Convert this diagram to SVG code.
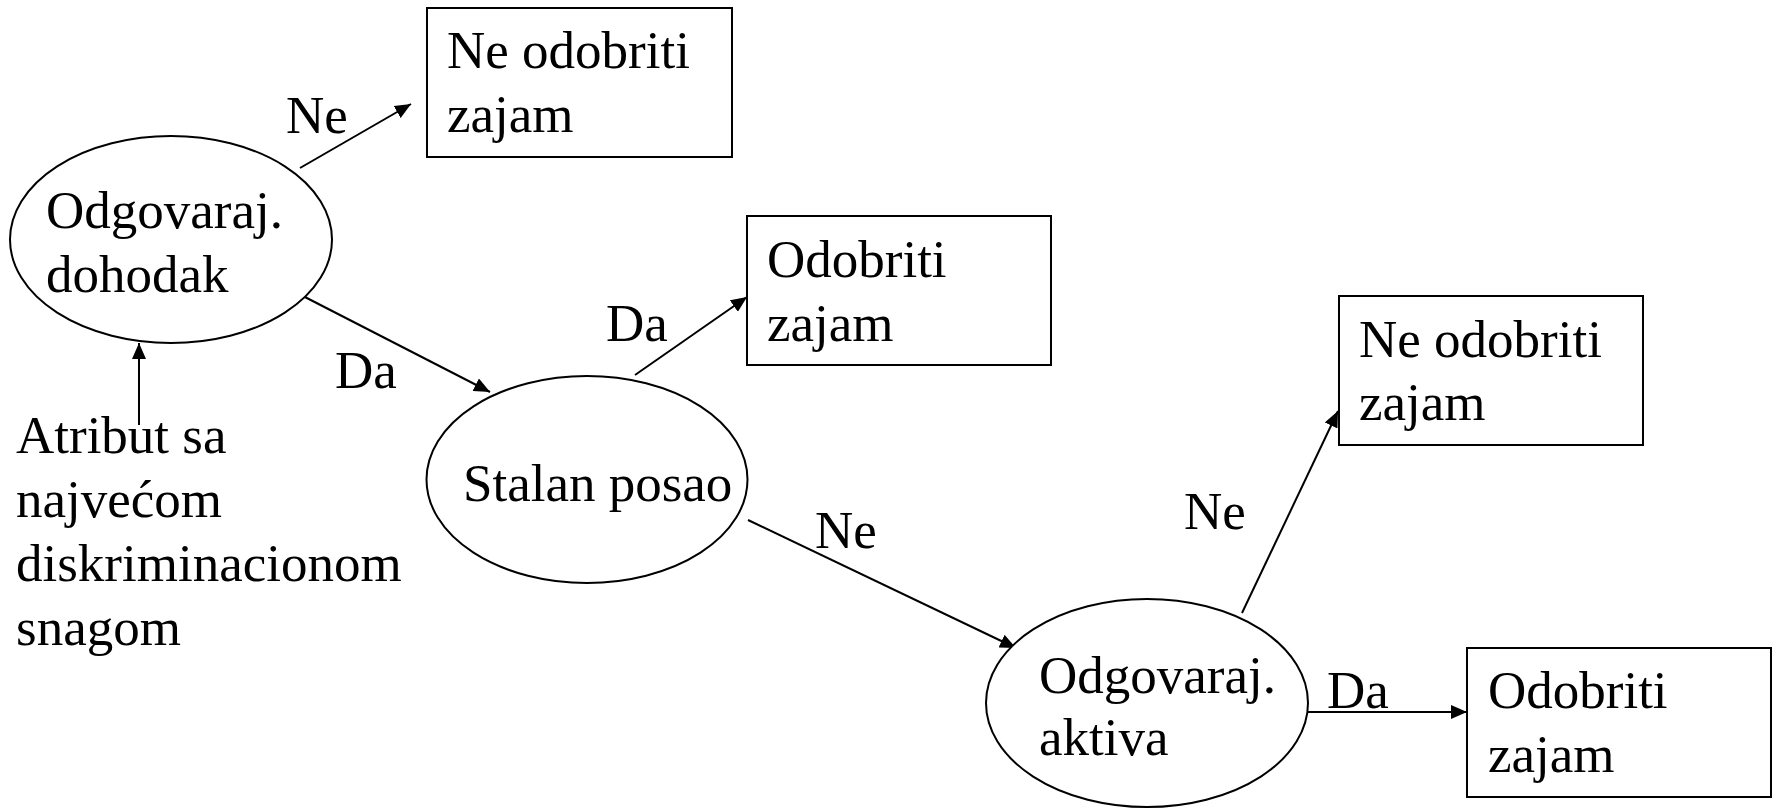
<svg xmlns="http://www.w3.org/2000/svg" width="1776" height="808" viewBox="0 0 1776 808">
<style>
text{font-family:"Liberation Serif","Times New Roman",serif;font-size:53px;fill:#000}
.n{fill:#fff;stroke:#000;stroke-width:2}
.c{stroke:#000;stroke-width:2;fill:none;marker-end:url(#ah)}
</style>
<defs>
<marker id="ah" markerUnits="userSpaceOnUse" markerWidth="18" markerHeight="14" refX="16" refY="7" orient="auto">
<path d="M0,0 L16,7 L0,14 Z" fill="#000"/>
</marker>
</defs>
<rect width="1776" height="808" fill="#fff"/>
<g id="connectors">
<line class="c" x1="300" y1="168" x2="411" y2="104"/>
<line class="c" x1="301" y1="295" x2="490" y2="392"/>
<line class="c" x1="139" y1="425" x2="139" y2="343"/>
<line class="c" x1="635" y1="375" x2="747" y2="297"/>
<line class="c" x1="748" y1="520" x2="1016" y2="648"/>
<line class="c" x1="1242" y1="613" x2="1338" y2="411"/>
<line class="c" x1="1308" y1="712" x2="1467" y2="712"/>
<text x="286" y="133">Ne</text>
<text x="335" y="388">Da</text>
<text x="606" y="341">Da</text>
<text x="815" y="548">Ne</text>
<text x="1184" y="529">Ne</text>
<text x="1327" y="708">Da</text>
</g>
<g id="n_dohodak">
<ellipse class="n" cx="171" cy="239.5" rx="161" ry="103.5"/>
<text x="46" y="228">Odgovaraj.</text>
<text x="46" y="292">dohodak</text>
</g>
<g id="n_posao">
<ellipse class="n" cx="587" cy="479.5" rx="160.5" ry="103.5"/>
<text x="463" y="501">Stalan posao</text>
</g>
<g id="n_aktiva">
<ellipse class="n" cx="1147" cy="703" rx="161" ry="104"/>
<text x="1039" y="693">Odgovaraj.</text>
<text x="1039" y="755">aktiva</text>
</g>
<g id="b_ne1">
<rect class="n" x="427" y="8" width="305" height="149"/>
<text x="447" y="68">Ne odobriti</text>
<text x="447" y="132">zajam</text>
</g>
<g id="b_da1">
<rect class="n" x="747" y="216" width="304" height="149"/>
<text x="767" y="277">Odobriti</text>
<text x="767" y="341">zajam</text>
</g>
<g id="b_ne2">
<rect class="n" x="1339" y="296" width="304" height="149"/>
<text x="1359" y="357">Ne odobriti</text>
<text x="1359" y="420">zajam</text>
</g>
<g id="b_da2">
<rect class="n" x="1467" y="648" width="304" height="149"/>
<text x="1488" y="708">Odobriti</text>
<text x="1488" y="772">zajam</text>
</g>
<g id="attr_note">
<text x="16" y="453">Atribut sa</text>
<text x="16" y="517">najvećom</text>
<text x="16" y="581">diskriminacionom</text>
<text x="16" y="645">snagom</text>
</g>
</svg>
